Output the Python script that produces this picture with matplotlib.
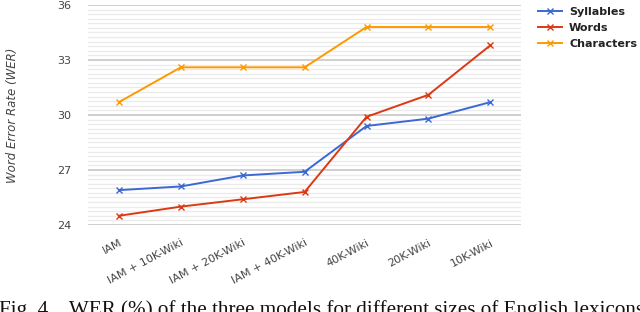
import numpy as np
import matplotlib
matplotlib.use("Agg")
import matplotlib.pyplot as plt
from matplotlib.ticker import MultipleLocator

categories = ["IAM", "IAM + 10K-Wiki", "IAM + 20K-Wiki", "IAM + 40K-Wiki",
              "40K-Wiki", "20K-Wiki", "10K-Wiki"]
syllables = [25.9, 26.1, 26.7, 26.9, 29.4, 29.8, 30.7]
words = [24.5, 25.0, 25.4, 25.8, 29.9, 31.1, 33.8]
characters = [30.7, 32.6, 32.6, 32.6, 34.8, 34.8, 34.8]
y_ticks = [24, 27, 30, 33, 36]

caption = "Fig. 4.   WER (%) of the three models for different sizes of English lexicons."

fig = plt.figure(figsize=(6.4, 3.12), dpi=100)
ax = fig.add_axes([0.1375, 0.279, 0.677, 0.705])

x = np.arange(len(categories))
series = [("Syllables", syllables, "#3b68d4"),
          ("Words", words, "#dc3912"),
          ("Characters", characters, "#ff9900")]
for name, vals, col in series:
    ax.plot(x, vals, color=col, lw=1.4, marker="x", ms=5, mew=1.0, label=name)

ax.set_xlim(-0.5, len(categories) - 0.5)
ax.set_ylim(24, 36)
ax.set_yticks(y_ticks)
ax.yaxis.set_minor_locator(MultipleLocator(0.25))
ax.grid(True, which="major", axis="y", color="#cccccc", lw=1.3)
ax.grid(True, which="minor", axis="y", color="#ebebeb", lw=1.0)
ax.set_axisbelow(True)
for s in ax.spines.values():
    s.set_visible(False)
ax.tick_params(axis="both", which="both", length=0)
ax.tick_params(axis="y", labelsize=8, labelcolor="#444444", pad=12)

ax.set_xticks(x)
ax.set_xticklabels(categories, rotation=28, ha="right", rotation_mode="anchor",
                   fontsize=8, color="#444444")
ax.tick_params(axis="x", pad=9)

# y label sits near the left edge of the figure
ax.set_ylabel("Word Error Rate (WER)", fontsize=8.5, style="italic", color="#444444")
ax.yaxis.set_label_coords(-0.16, 0.5)

leg = fig.legend(loc="upper left", bbox_to_anchor=(0.825, 1.01), frameon=False,
                 prop={"weight": "bold", "size": 8}, handlelength=2.2,
                 labelspacing=0.55, handletextpad=0.6)
for t in leg.get_texts():
    t.set_color("#222222")

fig.text(-0.002, -0.01, caption, family="Liberation Serif", fontsize=15.2,
         color="#111111", ha="left", va="baseline")

fig.savefig("out.png", dpi=100)
